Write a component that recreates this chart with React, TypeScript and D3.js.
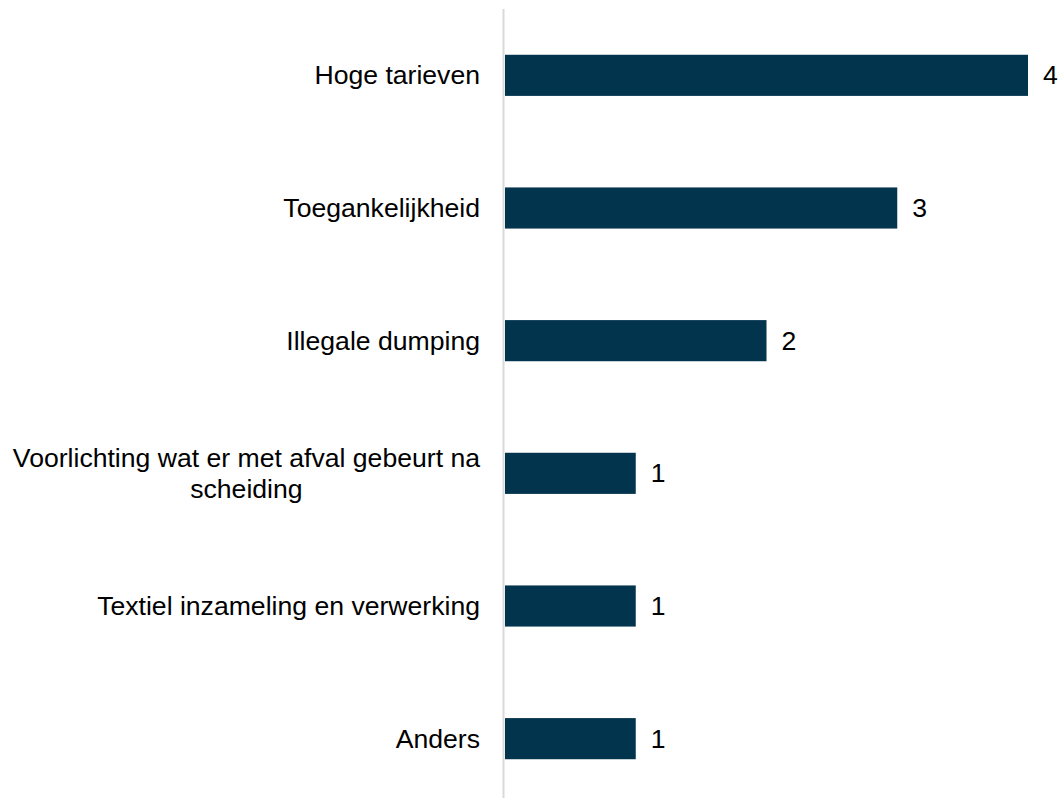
import React from "react";
import * as d3 from "d3";

const categories: string[][] = [
  ["Hoge tarieven"],
  ["Toegankelijkheid"],
  ["Illegale dumping"],
  ["Voorlichting wat er met afval gebeurt na", "scheiding"],
  ["Textiel inzameling en verwerking"],
  ["Anders"],
];
const values: number[] = [4, 3, 2, 1, 1, 1];

const W = 1063;
const H = 798;
const x0 = 505;
const FONT = "'Liberation Sans', Arial, sans-serif";

function measure(text: string, fs: number): number {
  const c = document.createElement("canvas").getContext("2d")!;
  c.font = `${fs}px ${FONT}`;
  return c.measureText(text).width;
}

export default function App() {
  const keys = categories.map((c, i) => String(i));
  const y = d3.scaleBand<string>().domain(keys).range([9, 805]).paddingInner(0.69).paddingOuter(0.345);
  const x = d3.scaleLinear().domain([0, 4]).range([x0, 1028]);
  const fs = 26.6;
  return (
    <svg width={W} height={H} style={{ position: "absolute", left: 0, top: 0 }} fontFamily={FONT}>
      <line x1={x0 - 1.5} x2={x0 - 1.5} y1={9} y2={H} stroke="#d9d9d9" strokeWidth={2} />
      {values.map((v, i) => {
        const yb = y(String(i))!;
        const cy = yb + y.bandwidth() / 2;
        const lines = categories[i];
        const lh = 31;
        const maxW = Math.max(...lines.map((l) => measure(l, fs)));
        const cx = 480 - maxW / 2;
        return (
          <g key={i}>
            <rect x={x(0)} y={yb} width={x(v) - x(0)} height={y.bandwidth()} fill="#02344d" />
            <text x={x(v) + 15} y={cy} dominantBaseline="central" fontSize={fs} fill="#000">{v}</text>
            {lines.map((l, j) => (
              <text key={j} x={lines.length > 1 ? cx : 480} y={cy + (j - (lines.length - 1) / 2) * lh} textAnchor={lines.length > 1 ? "middle" : "end"} dominantBaseline="central" fontSize={fs} fill="#000">{l}</text>
            ))}
          </g>
        );
      })}
    </svg>
  );
}
